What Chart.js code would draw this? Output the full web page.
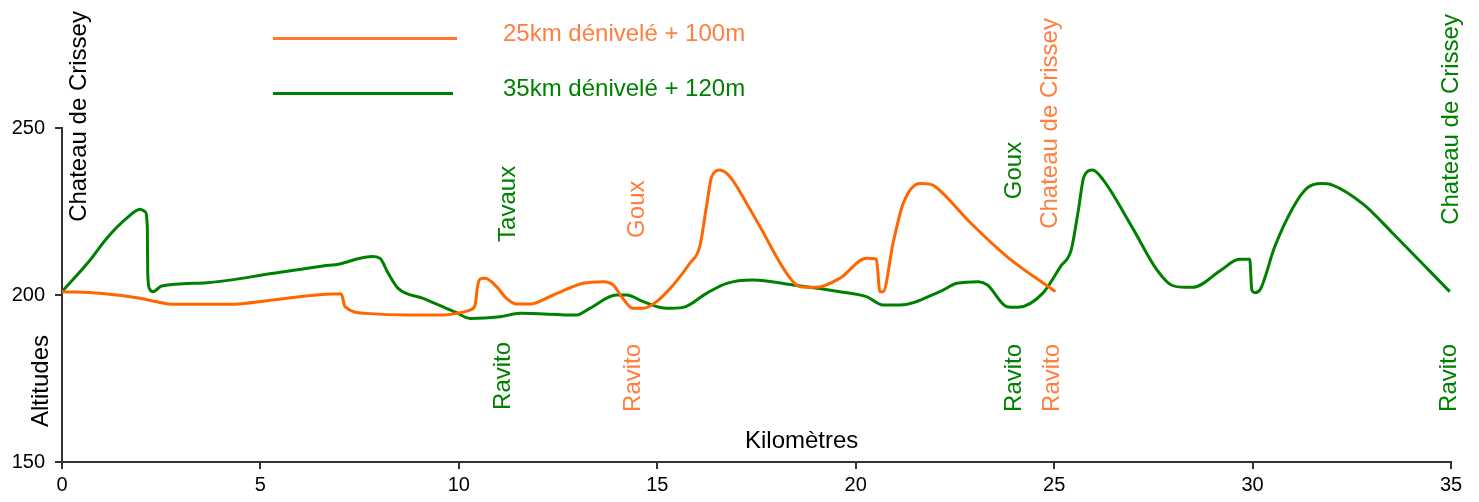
<!DOCTYPE html>
<html>
<head>
<meta charset="utf-8">
<script src="https://cdn.jsdelivr.net/npm/chart.js@4/dist/chart.umd.min.js"></script>
<style>
  html, body { margin: 0; padding: 0; background: #fff; }
  #wrap { width: 1479px; height: 502px; }
</style>
</head>
<body>
<div id="wrap"><canvas id="c" width="1479" height="502"></canvas></div>
<script>
// --- data (km / altitude in m)
const orangeKm  = [0, 0.96, 1.97, 2.39, 2.8, 4.23, 5.32, 6.83, 7.04, 7.13, 7.68, 8.68, 9.6, 9.94, 10.28, 10.41, 10.47, 10.53, 10.66, 10.95, 11.2, 11.46, 11.79, 12.38, 13.13, 13.64, 13.89, 14.1, 14.39, 14.65, 14.98, 15.4, 15.82, 16.07, 16.24, 16.37, 16.58, 16.83, 17.25, 17.59, 18.26, 18.59, 19.01, 19.6, 20.27, 20.52, 20.61, 20.69, 20.94, 21.2, 21.62, 21.87, 22.01, 22.91, 23.81, 25.03];
const orangeAlt = [201, 200.5, 199, 198, 197.2, 197.2, 198.5, 200.3, 200.3, 196.5, 194.5, 194, 194, 194.5, 195.5, 197, 202.5, 204.7, 205, 202.5, 199, 197.3, 197.3, 200, 203.5, 204, 203, 199.5, 196, 196, 198, 203, 209.5, 214.5, 226.5, 235.4, 237.4, 235.4, 227.5, 220.4, 206.5, 202.5, 202.3, 205, 211, 210.7, 201, 201, 215.5, 227.5, 233.4, 233.2, 232.4, 221.4, 211.5, 201];

const greenKm  = [0, 0.71, 1.13, 1.63, 1.97, 2.09, 2.15, 2.16, 2.2, 2.29, 2.51, 3.65, 5.33, 6.58, 7.0, 7.51, 7.81, 8.01, 8.22, 8.47, 9.1, 9.94, 10.28, 11.04, 11.54, 12.97, 13.3, 13.97, 14.23, 14.65, 15.23, 15.65, 16.24, 16.75, 17.41, 18.42, 19.6, 20.27, 20.69, 21.11, 22.12, 22.55, 23.09, 23.32, 23.81, 24.08, 24.71, 25.16, 25.43, 25.61, 25.75, 25.97, 26.24, 26.96, 27.59, 27.95, 28.31, 28.49, 29.21, 29.66, 29.93, 29.98, 30.07, 30.2, 30.56, 31.01, 31.37, 31.73, 32.0, 32.81, 33.53, 34.97];
const greenAlt = [201, 210.5, 217, 223, 225.7, 225, 220.4, 206.5, 202, 201, 202.7, 203.7, 206.5, 208.7, 209.3, 211, 211.5, 211, 206.5, 202, 199, 194.7, 193, 193.5, 194.5, 194, 196, 200, 200, 198, 196, 196.3, 200.5, 203.5, 204.5, 203, 201, 199.5, 197, 197, 201, 203.5, 204, 203, 196.5, 196.3, 200.5, 208.5, 213.5, 225.4, 235.4, 237.4, 234.4, 220.4, 207.5, 203, 202.3, 202.3, 207.5, 210.7, 210.7, 201.5, 200.7, 201.8, 214.5, 226, 232, 233.4, 233, 227, 218.5, 201];

const seriesNames = ['25km dénivelé + 100m', '35km dénivelé + 120m'];

// place names along the routes (km, altitude where the text starts, series)
const markText = ['Chateau de Crissey', 'Tavaux', 'Goux', 'Goux', 'Chateau de Crissey', 'Chateau de Crissey', 'Ravito', 'Ravito', 'Ravito', 'Ravito', 'Ravito'];
const markKm   = [0.44, 11.26, 14.51, 23.99, 24.9, 35.0, 11.11, 14.41, 23.99, 24.95, 34.97];
const markAlt  = [221.9, 215.9, 217.1, 228.7, 219.8, 221.0, 165.6, 165.0, 165.0, 165.0, 165.0];
const markSer  = ['k', 'g', 'o', 'g', 'o', 'g', 'g', 'o', 'g', 'o', 'g'];

const xTitle = 'Kilomètres';
const yTitle = 'Altitudes';

// --- styles
const FONT = '"Liberation Sans", Arial, sans-serif';
const ORANGE = '#ff6600';
const ORANGE_TXT = '#ff7f40';
const GREEN = '#008000';
const AXIS = '#333333';
const textColor = { k: '#000000', o: ORANGE_TXT, g: GREEN };

function pts(xs, ys) { return xs.map((x, i) => ({ x, y: ys[i] })); }

// --- overlay: legend, titles, rotated place names
const overlay = {
  id: 'overlay',
  afterDraw(chart) {
    const ctx = chart.ctx;
    const xs = chart.scales.x, ys = chart.scales.y;
    ctx.save();

    // legend
    ctx.lineWidth = 3;
    ctx.strokeStyle = '#ff7733';
    ctx.beginPath(); ctx.moveTo(273, 38.5); ctx.lineTo(457, 38.5); ctx.stroke();
    ctx.strokeStyle = GREEN;
    ctx.beginPath(); ctx.moveTo(273, 93.5); ctx.lineTo(453, 93.5); ctx.stroke();
    ctx.font = '24px ' + FONT;
    ctx.textAlign = 'left';
    ctx.textBaseline = 'alphabetic';
    ctx.fillStyle = ORANGE_TXT;
    ctx.fillText(seriesNames[0], 503, 41);
    ctx.fillStyle = GREEN;
    ctx.fillText(seriesNames[1], 503, 96);

    // axis titles
    ctx.fillStyle = '#000';
    ctx.fillText(xTitle, 745, 448);
    ctx.save();
    ctx.translate(41, 427);
    ctx.rotate(-Math.PI / 2);
    ctx.textBaseline = 'middle';
    ctx.fillText(yTitle, 0, 0);
    ctx.restore();

    // place names
    markText.forEach((t, i) => {
      const px = xs.getPixelForValue(markKm[i]);
      const py = ys.getPixelForValue(markAlt[i]);
      ctx.save();
      ctx.translate(px, py);
      ctx.rotate(-Math.PI / 2);
      ctx.textAlign = 'left';
      ctx.textBaseline = 'middle';
      ctx.fillStyle = textColor[markSer[i]];
      ctx.fillText(t, 0, 0);
      ctx.restore();
    });

    ctx.restore();
  }
};

new Chart(document.getElementById('c'), {
  type: 'scatter',
  data: {
    datasets: [
      { label: seriesNames[0], data: pts(orangeKm, orangeAlt), showLine: true, borderColor: ORANGE, borderWidth: 3, pointRadius: 0, cubicInterpolationMode: 'monotone' },
      { label: seriesNames[1], data: pts(greenKm, greenAlt), showLine: true, borderColor: GREEN, borderWidth: 3, pointRadius: 0, cubicInterpolationMode: 'monotone' }
    ]
  },
  options: {
    responsive: false,
    animation: false,
    layout: { padding: { top: 128, right: 28, left: 0, bottom: 0 } },
    plugins: { legend: { display: false }, tooltip: { enabled: false } },
    scales: {
      x: {
        type: 'linear', min: 0, max: 35,
        afterFit: s => { s.height = 40; },
        ticks: { stepSize: 5, color: '#000', font: { family: FONT, size: 20 }, padding: 4, maxRotation: 0 },
        grid: { drawOnChartArea: false, drawTicks: true, tickLength: 7, color: AXIS, lineWidth: 2 },
        border: { color: AXIS, width: 2 }
      },
      y: {
        min: 150, max: 250,
        afterFit: s => { s.width = 62; },
        ticks: { stepSize: 50, color: '#000', font: { family: FONT, size: 20 }, padding: 10 },
        grid: { drawOnChartArea: false, drawTicks: true, tickLength: 7, color: AXIS, lineWidth: 2 },
        border: { color: AXIS, width: 2 }
      }
    }
  },
  plugins: [overlay]
});
</script>
</body>
</html>
